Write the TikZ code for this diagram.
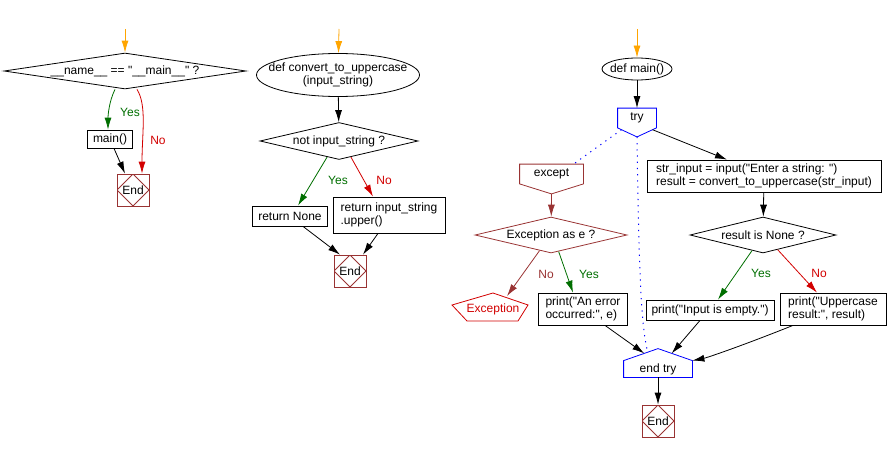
\documentclass[tikz,border=0pt]{standalone}
\usepackage{fontspec}
\newfontfamily\flowfont{Liberation Sans}
\usetikzlibrary{shapes.geometric,arrows.meta,calc}
\definecolor{yesgreen}{RGB}{0,110,0}
\definecolor{nored}{RGB}{210,0,0}
\definecolor{endbrown}{RGB}{153,51,51}
\definecolor{startorange}{RGB}{255,165,0}
\tikzset{
  every node/.style={font=\flowfont\fontsize{12}{13.5}\selectfont},
  box/.style={draw, rectangle, inner sep=2pt, align=left},
  cond/.style={draw, diamond, aspect=6, inner xsep=-20pt, inner ysep=-3pt},
  defnode/.style={draw, ellipse, inner ysep=0pt, align=center},
  endbox/.style={draw=endbrown, rectangle, minimum size=32pt, inner sep=0pt,
    path picture={\draw[endbrown] (path picture bounding box.north) -- (path picture bounding box.east)
      -- (path picture bounding box.south) -- (path picture bounding box.west) -- cycle;}},
  body/.style={rectangle, inner sep=0pt},
  flow/.style={-{Latex[length=12pt,width=7pt]}, line width=0.8pt},
  yeslbl/.style={text=yesgreen},
  nolbl/.style={text=nored},
  trydots/.style={draw=blue, line width=1pt, dash pattern=on 1.2pt off 5pt},
}
\begin{document}
\begin{tikzpicture}[x=1pt,y=-1pt, line width=0.8pt]
\useasboundingbox (0,0) rectangle (888,452);

% __name__ check
\coordinate (StA) at (125,29);
\node[cond, minimum width=242pt, minimum height=36pt] (NaMa) at (125,71) {\_\_name\_\_ == "\_\_main\_\_" ?};
\node[box, minimum width=45pt, minimum height=18pt] (MaCa) at (110,139) {main()};
\node[endbox] (EnA) at (133,190) {End};
\node[yeslbl] (YeA) at (130,112) {Yes};
\node[nolbl] (NoA) at (158,140) {No};

\draw[flow, draw=startorange] (StA) -- (NaMa);
\draw[flow, draw=yesgreen] ([xshift=-10pt]NaMa.south) .. controls +(-6,12) and +(0,-14) .. ([xshift=-2pt]MaCa.north);
\draw[flow, draw=nored] ([xshift=12pt]NaMa.south) .. controls +(10,16) and +(0,-40) .. ([xshift=9pt]EnA.north);
\draw[flow] ([xshift=4pt]MaCa.south) -- ([xshift=-8pt]EnA.north);

% convert_to_uppercase
\coordinate (StB) at (339,29);
\node[defnode, inner xsep=-14pt, minimum width=163pt, minimum height=43pt] (DeCo) at (338,75) {def convert\_to\_uppercase\\(input\_string)};
\node[cond, minimum width=158pt, minimum height=37pt] (NoIn) at (339,141) {not input\_string ?};
\node[box, minimum width=75pt, minimum height=20pt] (ReNo) at (290,216) {return None};
\node[box, minimum width=112pt, minimum height=36pt] (ReUp) at (389,215) {return input\_string\\.upper()};
\node[endbox] (EnB) at (350,271) {End};
\node[yeslbl] (YeB) at (338,180) {Yes};
\node[nolbl] (NoB) at (384,180) {No};

\draw[flow, draw=startorange] (StB) -- (DeCo);
\draw[flow] (DeCo) -- (NoIn);
\draw[flow, draw=yesgreen] ($(NoIn.south)!0.15!(NoIn.west)$) -- ([xshift=8pt]ReNo.north);
\draw[flow, draw=nored] ($(NoIn.south)!0.15!(NoIn.east)$) -- ([xshift=-16pt]ReUp.north);
\draw[flow] ([xshift=13pt]ReNo.south) -- ([xshift=-10pt]EnB.north);
\draw[flow] ([xshift=-11pt]ReUp.south) -- ([xshift=13pt]EnB.north);

% main
\coordinate (StC) at (637,29);
\node[defnode, inner xsep=-8pt, minimum width=70pt, minimum height=22pt] (DeMa) at (637,69) {def main()};
\node[body, minimum width=38pt, minimum height=19pt] (Tr) at (637,118) {try};
\coordinate (TrTip) at ($(Tr.south)+(0,9)$);
\draw[blue] (Tr.north west) -- (Tr.north east) -- (Tr.south east) -- (TrTip) -- (Tr.south west) -- cycle;

\node[box, minimum width=234pt, minimum height=32pt] (StIn) at (764,176) {str\_input = input("Enter a string: ")\\result = convert\_to\_uppercase(str\_input)};
\node[cond, minimum width=146pt, minimum height=36pt] (ReIs) at (763,235) {result is None ?};
\node[box, minimum width=128pt, minimum height=20pt] (PrEm) at (710,310) {print("Input is empty.")};
\node[box, minimum width=106pt, minimum height=32pt] (PrUp) at (833,309) {print("Uppercase\\result:", result)};
\node[yeslbl] (YeC) at (761,273) {Yes};
\node[nolbl] (NoC) at (819,273) {No};

\node[body, minimum width=63pt, minimum height=19pt] (Ex) at (551.5,174) {except};
\coordinate (ExTip) at ($(Ex.south)+(0,10)$);
\draw[endbrown] (Ex.north west) -- (Ex.north east) -- (Ex.south east) -- (ExTip) -- (Ex.south west) -- cycle;

\node[cond, draw=endbrown, minimum width=152pt, minimum height=36pt] (ExAs) at (551,235) {Exception as e ?};
\node[text=nored] (ExRa) at (493,309) {Exception};
\draw[nored] ($(ExRa)+(0,-16)$) -- ($(ExRa)+(35,-4)$) -- ($(ExRa)+(25,12)$) -- ($(ExRa)+(-26,12)$) -- ($(ExRa)+(-41,-4)$) -- cycle;
\node[box, minimum width=89pt, minimum height=32pt] (PrEr) at (583,309) {print("An error\\occurred:", e)};
\node[text=endbrown] (NoD) at (546,274) {No};
\node[yeslbl] (YeD) at (589,274) {Yes};

\node[body, minimum width=68pt, minimum height=16pt] (EnTr) at (658,369) {end try};
\coordinate (EnTrApex) at ($(EnTr.north)+(0,-12)$);
\draw[blue] (EnTr.south west) -- (EnTr.north west) -- (EnTrApex) -- (EnTr.north east) -- (EnTr.south east) -- cycle;
\node[endbox] (EnC) at (658,421) {End};

\draw[flow, draw=startorange] (StC) -- (DeMa);
\draw[flow] (DeMa) -- (Tr);
\draw[flow] ($(TrTip)!0.8!(Tr.south east)$) -- ([xshift=-37pt]StIn.north);
\draw[flow] (StIn) -- (ReIs);
\draw[flow, draw=yesgreen] ($(ReIs.south)!0.15!(ReIs.west)$) -- ([xshift=8pt]PrEm.north);
\draw[flow, draw=nored] ($(ReIs.south)!0.2!(ReIs.east)$) -- ([xshift=-16pt]PrUp.north);

\draw[trydots] ($(TrTip)!0.8!(Tr.south west)$) -- ([xshift=22pt]Ex.north);
\draw[trydots] (TrTip) .. controls +(2,150) and +(-6,-25) .. ($(EnTrApex)!0.3!(EnTr.north west)$);

\draw[flow, draw=endbrown] (ExTip) -- (ExAs);
\draw[flow, draw=endbrown] ($(ExAs.south)!0.15!(ExAs.west)$) -- ($(ExRa)+(14,-13)$);
\draw[flow, draw=yesgreen] ($(ExAs.south)!0.1!(ExAs.east)$) -- ([xshift=-10pt]PrEr.north);

\draw[flow] ([xshift=22pt]PrEr.south) -- ($(EnTrApex)!0.4!(EnTr.north west)$);
\draw[flow] ([xshift=-10pt]PrEm.south) -- ($(EnTrApex)!0.4!(EnTr.north east)$);
\draw[flow] ([xshift=-40pt]PrUp.south) .. controls +(-50,20) and +(15,-3) .. (EnTr.north east);
\draw[flow] (EnTr) -- (EnC);

\end{tikzpicture}
\end{document}
